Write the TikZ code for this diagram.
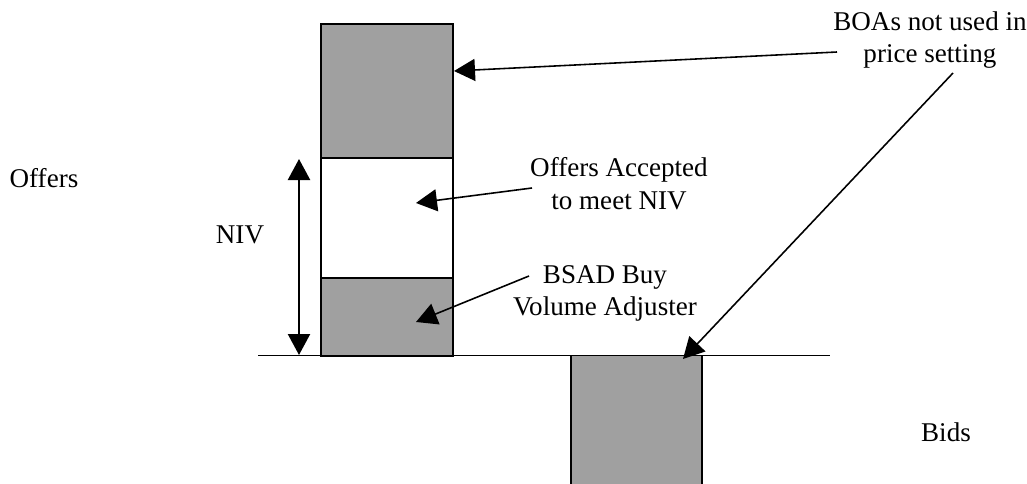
\documentclass[tikz,border=0pt]{standalone}
\usepackage{fontspec}
\setmainfont{Liberation Serif}
\usetikzlibrary{arrows.meta, positioning}
\definecolor{boxgray}{HTML}{A0A0A0}

\begin{document}
\begin{tikzpicture}[
  block/.style={rectangle, draw=black, line width=0.9pt, minimum width=2.64cm, inner sep=0pt, outer sep=0pt},
  txt/.style={font=\fontsize{15.4}{18.5}\selectfont, align=center, inner sep=0pt},
  pointer/.style={-{Triangle[length=0.42cm, width=0.44cm]}, line width=0.9pt}]
\clip (0,0) rectangle (20.54,9.66);

% offer stack
\node[block, fill=boxgray, minimum height=2.68cm] (unused) at (7.74,7.84) {};
\node[block, fill=white, minimum height=2.40cm] (accepted) at (7.74,5.30) {};
\node[block, fill=boxgray, minimum height=1.56cm] (bsad) at (7.74,3.32) {};

% bid below the line
\node[block, fill=boxgray, minimum width=2.62cm, minimum height=2.85cm] (bid) at (12.73,1.125) {};

\coordinate (lineL) at (5.16,2.55);
\coordinate (lineR) at (16.60,2.55);
\draw[line width=0.9pt] (lineL) -- (lineR);

% texts
\node[txt] (offers) at (0.88,6.10) {Offers};
\node[txt] (niv) at (4.80,4.96) {NIV};
\node[txt] (bids) at (18.92,1.02) {Bids};
\node[txt] (boas) at (18.60,8.86) {BOAs not used in\\price setting};
\node[txt] (acctxt) at (12.38,5.99) {Offers Accepted\\to meet NIV};
\node[txt] (bsadtxt) at (12.10,3.79) {BSAD Buy\\Volume Adjuster};

% NIV span
\coordinate (nivtop) at (5.98,6.48);
\coordinate (nivbot) at (5.98,2.56);
\draw[{Triangle[length=0.42cm, width=0.44cm]}-{Triangle[length=0.42cm, width=0.44cm]}, line width=1.3pt] (nivtop) -- (nivbot);

% pointers
\coordinate (boasA) at (16.74,8.62);
\coordinate (boasB) at (19.06,8.20);
\coordinate (accA) at (10.64,5.90);
\coordinate (bsadA) at (10.58,4.14);
\coordinate (unusedtip) at (9.08,8.24);
\coordinate (bidtip) at (13.66,2.48);
\coordinate (acctip) at (8.32,5.60);
\coordinate (bsadtip) at (8.32,3.22);
\draw[pointer] (boasA) -- (unusedtip);
\draw[pointer] (boasB) -- (bidtip);
\draw[pointer] (accA) -- (acctip);
\draw[pointer] (bsadA) -- (bsadtip);
\end{tikzpicture}
\end{document}
